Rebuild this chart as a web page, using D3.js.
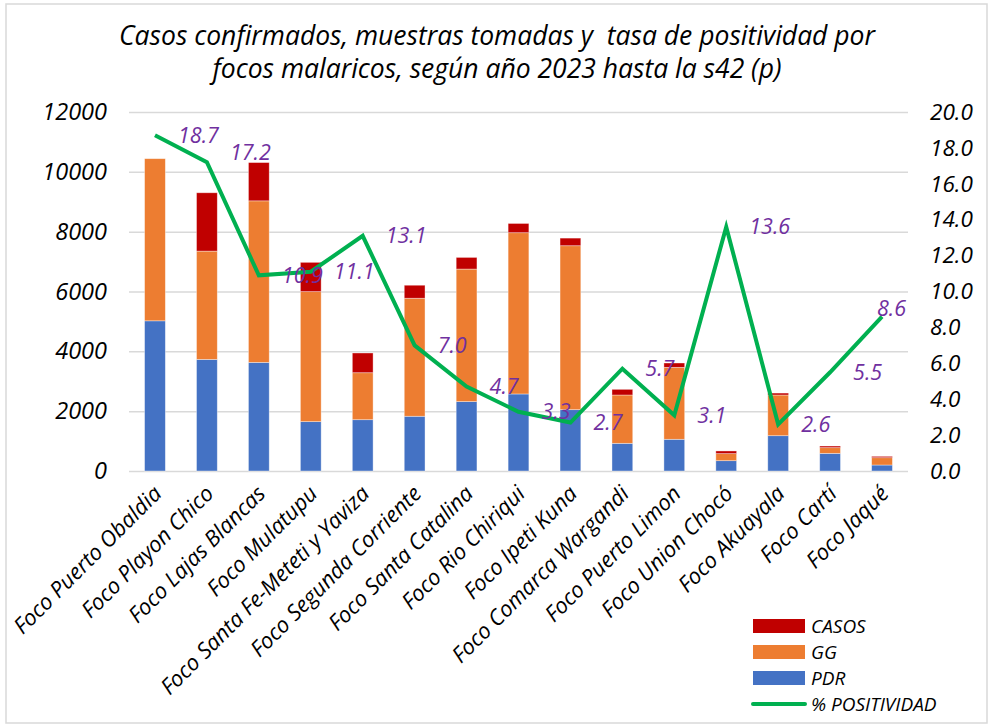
<!DOCTYPE html>
<html>
<head>
<meta charset="utf-8">
<script src="https://cdn.jsdelivr.net/npm/d3@7"></script>
<style>
  body { margin: 0; background: #fff; }
  svg { display: block; font-family: "Open Sans", sans-serif; font-style: italic; }
</style>
</head>
<body>
<svg id="chart"></svg>
<script>
// Categories (focos)
const categories = [
  "Foco Puerto Obaldia", "Foco Playon Chico", "Foco Lajas Blancas", "Foco Mulatupu",
  "Foco Santa Fe-Meteti y Yaviza", "Foco Segunda Corriente", "Foco Santa Catalina",
  "Foco Rio Chiriqui", "Foco Ipeti Kuna", "Foco Comarca Wargandi", "Foco Puerto Limon",
  "Foco Union Chocó", "Foco Akuayala", "Foco Cartí", "Foco Jaqué"
];

// Stacked series (muestras / casos)
const pdr = [5020, 3730, 3630, 1650, 1715, 1830, 2320, 2575, 2050, 925, 1060, 345, 1180, 590, 200];
const gg = [5420, 3620, 5400, 4345, 1570, 3945, 4430, 5390, 5480, 1615, 2405, 235, 1360, 190, 245];
const casos = [0, 1950, 1280, 980, 660, 435, 390, 310, 255, 190, 145, 90, 65, 55, 45];

// % positividad (right axis)
const positividad = [18.7, 17.2, 10.9, 11.1, 13.1, 7.0, 4.7, 3.3, 2.7, 5.7, 3.1, 13.6, 2.6, 5.5, 8.6];

// Axis ticks
const leftTicks = [0, 2000, 4000, 6000, 8000, 10000, 12000];
const rightTicks = [0, 2, 4, 6, 8, 10, 12, 14, 16, 18, 20];

const titleLines = [
  "Casos confirmados, muestras tomadas y  tasa de positividad por",
  "focos malaricos, según año 2023 hasta la s42 (p)"
];

const seriesKeys = ["PDR", "GG", "CASOS"];
const colors = { PDR: "#4472C4", GG: "#ED7D31", CASOS: "#C00000", LINE: "#00B050" };

// SVG size
const svgWidth = 988;
const svgHeight = 725;
const plot = { left: 129, right: 908, top: 112, bottom: 471 };

const svg = d3.select("#chart").attr("width", svgWidth).attr("height", svgHeight);

// Chart border
svg.append("rect")
  .attr("x", 6).attr("y", 4)
  .attr("width", svgWidth - 7).attr("height", svgHeight - 6)
  .attr("fill", "none").attr("stroke", "#d9d9d9").attr("stroke-width", 1.5);

// Title
svg.append("text")
  .attr("x", 497).attr("y", 45)
  .attr("text-anchor", "middle")
  .style("font-size", "26.5px")
  .style("white-space", "pre")
  .selectAll("tspan")
  .data(titleLines)
  .enter()
  .append("tspan")
  .attr("x", 497)
  .attr("dy", (d, i) => (i === 0 ? 0 : 33))
  .text((d) => d);

// Scales
const x = d3.scaleBand()
  .domain(categories)
  .range([plot.left, plot.right])
  .paddingInner(0.6)
  .paddingOuter(0.3);

const y = d3.scaleLinear().domain([0, 12000]).range([plot.bottom, plot.top]);
const y2 = d3.scaleLinear().domain([0, 20]).range([plot.bottom, plot.top]);

// Gridlines
svg.append("g")
  .attr("transform", `translate(${plot.left},0)`)
  .call(d3.axisLeft(y).tickValues(leftTicks).tickSize(-(plot.right - plot.left)).tickFormat(""))
  .call((g) => g.select(".domain").remove())
  .call((g) => g.selectAll("line").attr("stroke", "#d9d9d9").attr("stroke-width", 1.5));

// Left axis
svg.append("g")
  .attr("transform", `translate(${plot.left - 22},0)`)
  .call(d3.axisLeft(y).tickValues(leftTicks).tickSize(0).tickPadding(0).tickFormat(d3.format("d")))
  .call((g) => g.select(".domain").remove())
  .call((g) => g.selectAll("text")
    .style("font-family", "'Open Sans', sans-serif")
    .style("font-style", "italic")
    .style("font-size", "23.5px")
    .attr("fill", "#000"));

// Right axis
svg.append("g")
  .attr("transform", `translate(${plot.right + 22},0)`)
  .call(d3.axisRight(y2).tickValues(rightTicks).tickSize(0).tickPadding(0).tickFormat(d3.format(".1f")))
  .call((g) => g.select(".domain").remove())
  .call((g) => g.selectAll("text")
    .style("font-family", "'Open Sans', sans-serif")
    .style("font-style", "italic")
    .style("font-size", "22.5px")
    .attr("fill", "#000"));

// Stacked bars
const table = categories.map((c, i) => ({ name: c, PDR: pdr[i], GG: gg[i], CASOS: casos[i] }));
const stacked = d3.stack().keys(seriesKeys)(table);

svg.append("g")
  .selectAll("g")
  .data(stacked)
  .enter()
  .append("g")
  .attr("fill", (d) => colors[d.key])
  .selectAll("rect")
  .data((d) => d)
  .enter()
  .append("rect")
  .attr("x", (d) => x(d.data.name))
  .attr("y", (d) => y(d[1]))
  .attr("width", x.bandwidth())
  .attr("height", (d) => y(d[0]) - y(d[1]))
  .attr("stroke", "#fff")
  .attr("stroke-opacity", 0.5)
  .attr("stroke-width", 0.75);

// X labels
svg.append("g")
  .selectAll("text")
  .data(categories)
  .enter()
  .append("text")
  .attr("transform", (d) => `translate(${x(d) + x.bandwidth() / 2 + 8},${plot.bottom + 24}) rotate(-45)`)
  .attr("text-anchor", "end")
  .style("font-size", "22px")
  .attr("fill", "#000")
  .text((d) => d);

// Line
const cx = (i) => x(categories[i]) + x.bandwidth() / 2;
const line = d3.line()
  .x((d, i) => cx(i))
  .y((d) => y2(d));

svg.append("path")
  .datum(positividad)
  .attr("d", line)
  .attr("fill", "none")
  .attr("stroke", colors.LINE)
  .attr("stroke-width", 4)
  .attr("stroke-linejoin", "miter");

// Data labels (right of each point, kept inside plot area)
const labelNudge = { 1: -10, 14: -8 };
svg.append("g")
  .selectAll("text")
  .data(positividad)
  .enter()
  .append("text")
  .attr("x", (d, i) => cx(i) + 23)
  .attr("y", (d, i) => y2(d) + (labelNudge[i] || 0))
  .attr("dy", "0.35em")
  .style("font-size", "21.5px")
  .attr("fill", "#7030A0")
  .text((d) => d3.format(".1f")(d))
  .each(function () {
    const w = this.getComputedTextLength();
    const xx = +this.getAttribute("x");
    if (xx + w > plot.right - 2) this.setAttribute("x", plot.right - 2 - w);
  });

// Legend
const legendItems = [
  { name: "CASOS", color: colors.CASOS, type: "rect" },
  { name: "GG", color: colors.GG, type: "rect" },
  { name: "PDR", color: colors.PDR, type: "rect" },
  { name: "% POSITIVIDAD", color: colors.LINE, type: "line" }
];

const legend = svg.append("g")
  .attr("transform", "translate(753,626)")
  .selectAll("g")
  .data(legendItems)
  .enter()
  .append("g")
  .attr("transform", (d, i) => `translate(0,${i * 26})`);

legend.filter((d) => d.type === "rect")
  .append("rect")
  .attr("x", 0).attr("y", -7)
  .attr("width", 52).attr("height", 14)
  .attr("fill", (d) => d.color);

legend.filter((d) => d.type === "line")
  .append("line")
  .attr("x1", 0).attr("x2", 52)
  .attr("y1", 0).attr("y2", 0)
  .attr("stroke", (d) => d.color)
  .attr("stroke-width", 4)
  .attr("stroke-linecap", "round");

legend.append("text")
  .attr("x", 58)
  .attr("dy", "0.35em")
  .style("font-size", "19px")
  .attr("fill", "#000")
  .text((d) => d.name);
</script>
</body>
</html>
